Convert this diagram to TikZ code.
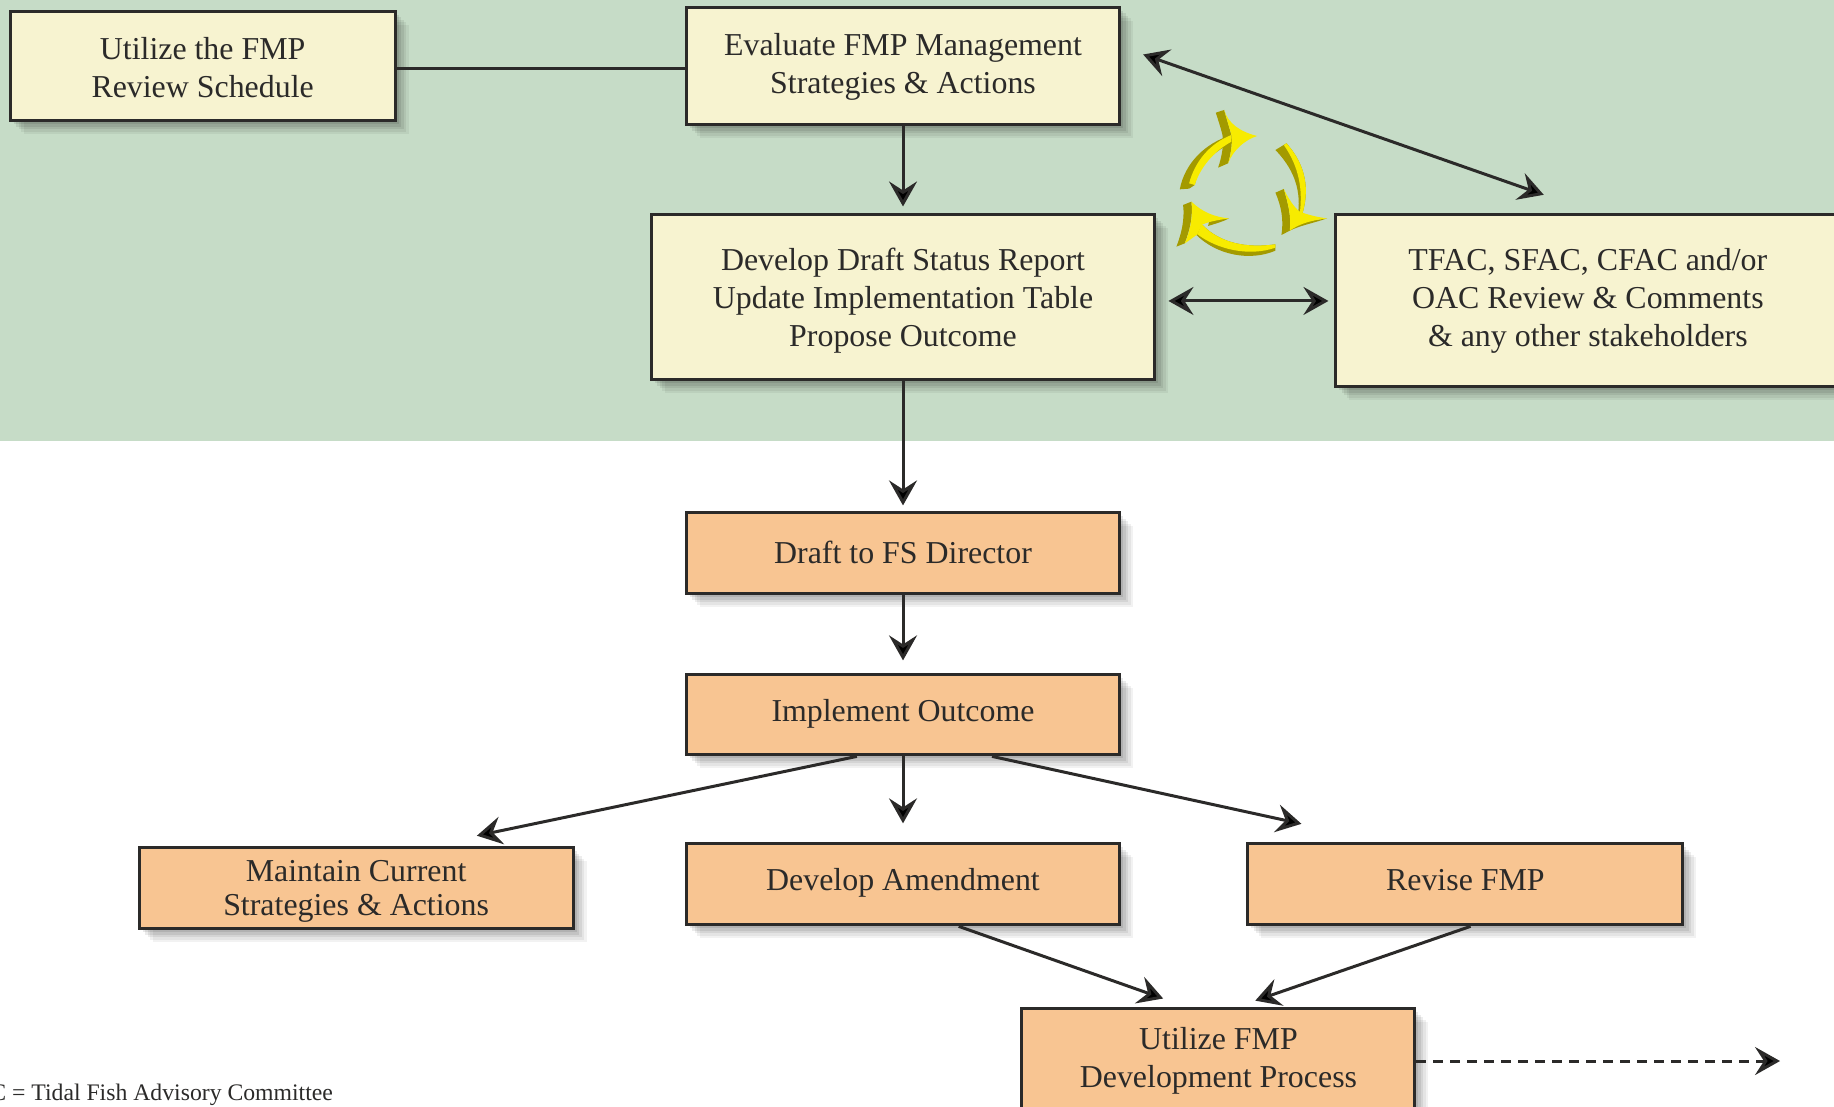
\documentclass[tikz,border=0pt]{standalone}
\usepackage{fontspec}
\setmainfont{Liberation Serif}
\usetikzlibrary{positioning, arrows.meta, shadows}
\definecolor{inkdark}{HTML}{2B2A29}
\definecolor{greenback}{HTML}{C6DCC7}
\definecolor{creamfill}{HTML}{F7F3D0}
\definecolor{orangefill}{HTML}{F8C592}
\definecolor{cycleface}{HTML}{F7EB00}
\definecolor{cycleside}{HTML}{A39A00}
% texto do no deslocado na vertical, sem mudar a caixa
\newcommand{\boxtext}[2]{\raisebox{#1}[\height][\depth]{\begin{tabular}{@{}c@{}}#2\end{tabular}}}

\begin{document}
\begin{tikzpicture}[x=0.02cm, y=-0.02cm, >={Stealth[length=0.5cm, width=0.56cm, inset=0.18cm]}, on grid,
					softshade/.style={
						drop shadow={shadow xshift=0.27cm, shadow yshift=-0.27cm, opacity=0.05, fill=black},
						drop shadow={shadow xshift=0.22cm, shadow yshift=-0.22cm, opacity=0.06, fill=black},
						drop shadow={shadow xshift=0.17cm, shadow yshift=-0.17cm, opacity=0.07, fill=black},
						drop shadow={shadow xshift=0.12cm, shadow yshift=-0.12cm, opacity=0.08, fill=black},
						drop shadow={shadow xshift=0.07cm, shadow yshift=-0.07cm, opacity=0.09, fill=black}},
					boxbase/.style={draw=inkdark, line width=0.06cm, align=center, text=inkdark, softshade,
						font=\fontsize{18.15}{21.6}\selectfont, inner sep=0pt},
					creambox/.style={boxbase, fill=creamfill},
					orangebox/.style={boxbase, fill=orangefill},
					link/.style={draw=inkdark, line width=0.06cm},
					side/.style={fill=cycleside, draw=none},
					face/.style={fill=cycleface, draw=none}]
	\fill[greenback] (0,0) rectangle (1834,441);

	\node[creambox, minimum width=8.68cm, minimum height=2.36cm]  (eval) at (903,66) {\boxtext{-0.3pt}{Evaluate FMP Management\\Strategies \& Actions}};
	\node[creambox, minimum width=7.7cm, minimum height=2.2cm]    (review)[left=14.01cm of eval] {\boxtext{-2.7pt}{Utilize the FMP\\Review Schedule}};
	\node[creambox, minimum width=10.08cm, minimum height=3.3cm]  (draft)[below=4.63cm of eval] {\boxtext{-2pt}{Develop Draft Status Report\\Update Implementation Table\\Propose Outcome}};
	\node[creambox, minimum width=10.08cm, minimum height=3.44cm] (tfac)[below right=0.07cm and 13.7cm of draft] {\boxtext{0.2pt}{TFAC, SFAC, CFAC and/or\\OAC Review \& Comments\\\& any other stakeholders}};
	\node[orangebox, minimum width=8.68cm, minimum height=1.62cm] (fsdir)[below=5.12cm of draft] {\boxtext{-1.3pt}{Draft to FS Director}};
	\node[orangebox, minimum width=8.68cm, minimum height=1.6cm]  (impl)[below=3.23cm of fsdir] {\boxtext{0.7pt}{Implement Outcome}};
	\node[orangebox, minimum width=8.68cm, minimum height=1.62cm] (amend)[below=3.39cm of impl] {\boxtext{0.7pt}{Develop Amendment}};
	\node[orangebox, minimum width=8.68cm, minimum height=1.62cm, font=\fontsize{18.15}{19.3}\selectfont] (maintain)[below left=3.47cm and 10.94cm of impl] {\boxtext{-1.8pt}{Maintain Current\\Strategies \& Actions}};
	\node[orangebox, minimum width=8.7cm, minimum height=1.62cm]  (revise)[right=11.25cm of amend] {\boxtext{0.7pt}{Revise FMP}};
	\node[orangebox, minimum width=7.86cm, minimum height=2.22cm] (util)[below right=3.6cm and 6.31cm of amend] {\boxtext{2pt}{Utilize FMP\\Development Process}};
	\node[anchor=base west, text=inkdark, inner sep=0pt, font=\fontsize{13.5}{15}\selectfont] (note) at (-10,1100) {C = Tidal Fish Advisory Committee};
	\coordinate (dashend) at (1780,1061);
	\coordinate (toplevel) at (0,68.5);

	\path[link]
	(review.east |- toplevel) edge (eval.west |- toplevel)
	(eval) edge[->, shorten >=0.14cm] (draft)
	(draft) edge[->, shorten >=0.12cm] (fsdir)
	(fsdir) edge[->, shorten >=0.26cm] (impl)
	(impl) edge[->, shorten >=0.38cm] (amend)
	%diagonais saem de pontos da borda
	(eval.5.5) edge[<->, shorten <=0.46cm, shorten >=1.13cm] (tfac.84.7)
	(draft.east |- tfac.west) edge[<->, shorten <=0.24cm, shorten >=0.12cm] (tfac.west)
	(impl.222) edge[->, shorten >=1.04cm] (maintain.31.2)
	(impl.-25.2) edge[->, shorten >=1.74cm] (revise.152.5)
	(amend.-37.9) edge[->, shorten >=0.53cm] (util.118)
	(revise.-83.7) edge[->, shorten >=0.41cm] (util.73)
	(util.east |- dashend) edge[->, dashed, dash pattern=on 0.2cm off 0.14cm] (dashend);

	%setas amarelas do ciclo
	\begin{scope}[shift={(22.6cm,-1.6cm)}, x=0.00667cm, y=-0.00667cm]
		\fill[side] (150,328) .. controls (165,250) and (225,190) .. (305,165) -- (305,190) .. controls (250,215) and (205,260) .. (195,315) -- (178,326) -- cycle;
		\fill[side] (258,98) -- (283,90) -- (305,165) .. controls (308,190) and (305,215) .. (295,250) -- (265,263) .. controls (278,225) and (282,190) .. (278,165) .. controls (272,140) and (265,120) .. (258,98) -- cycle;
		\fill[face] (178,310) .. controls (195,245) and (240,190) .. (305,165) -- (305,185) .. controls (250,215) and (210,265) .. (195,315) -- cycle;
		\fill[face] (283,90) .. controls (295,130) and (330,155) .. (382,168) .. controls (345,180) and (310,210) .. (295,250) .. controls (305,215) and (308,190) .. (305,165) .. controls (298,140) and (290,115) .. (283,90) -- cycle;
		\fill[side] (437,210) -- (470,190) .. controls (515,240) and (545,310) .. (518,400) -- (505,400) .. controls (515,320) and (485,260) .. (437,210) -- cycle;
		\fill[face] (470,190) .. controls (515,240) and (545,310) .. (518,400) -- (510,400) .. controls (522,310) and (497,245) .. (462,195) -- cycle;
		\fill[side] (437,338) -- (462,327) .. controls (475,370) and (485,410) .. (480,452) -- (455,465) .. controls (462,420) and (455,380) .. (437,338) -- cycle;
		\fill[side] (592,415) .. controls (550,430) and (515,435) .. (480,452) -- (490,430) -- cycle;
		\fill[face] (462,327) .. controls (475,355) and (495,385) .. (510,395) .. controls (535,405) and (565,412) .. (592,415) .. controls (550,420) and (510,430) .. (480,452) .. controls (485,410) and (475,370) .. (462,327) -- cycle;
		\fill[side] (200,465) .. controls (260,525) and (360,545) .. (437,512) -- (437,493) .. controls (350,505) and (270,490) .. (215,432) -- cycle;
		\fill[face] (215,432) .. controls (270,490) and (350,505) .. (437,493) -- (437,503) .. controls (360,530) and (265,510) .. (203,463) -- cycle;
		\fill[side] (160,375) -- (185,365) .. controls (190,410) and (180,450) .. (165,490) -- (140,500) .. controls (155,460) and (165,420) .. (160,375) -- cycle;
		\fill[side] (298,415) .. controls (280,425) and (260,430) .. (235,438) -- (240,415) -- cycle;
		\fill[face] (185,365) .. controls (215,395) and (255,412) .. (298,415) .. controls (265,420) and (235,425) .. (215,435) -- (203,463) .. controls (190,472) and (178,482) .. (165,490) .. controls (182,450) and (190,410) .. (185,365) -- cycle;
	\end{scope}
	\pgfresetboundingbox
	\useasboundingbox (0,0) rectangle (1834,1106);
\end{tikzpicture}
\end{document}
